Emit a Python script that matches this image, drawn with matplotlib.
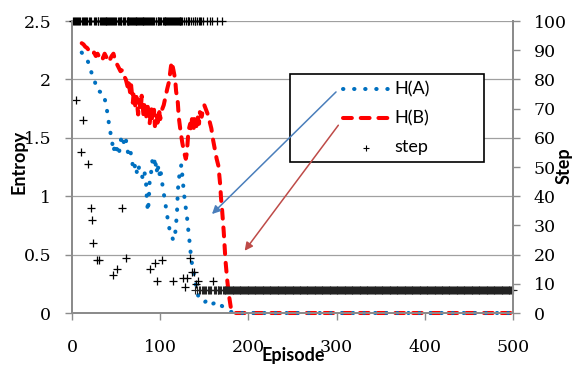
import matplotlib
matplotlib.use("Agg")
import matplotlib.pyplot as plt
from matplotlib.lines import Line2D
from matplotlib.patches import Rectangle, FancyArrowPatch

# H(A) entropy per episode
ha_episode = [11, 14, 17, 20, 22, 24, 26, 28, 30, 33, 36, 38, 40, 41, 43, 44, 46, 47,
              49, 51, 53, 55, 57, 59, 61, 62, 64, 66, 68, 70, 72, 74, 76, 78, 80, 82,
              84, 85, 86, 87, 88, 90, 91, 93, 94, 96, 97, 99, 100, 102, 103, 105, 107,
              109, 111, 113, 115, 117, 119, 120, 122, 124, 126, 128, 130, 132, 134,
              135, 137, 139, 141, 143, 146, 150, 155, 160, 165, 170, 176, 180, 187, 500]
ha_value = [2.23, 2.20, 2.17, 2.12, 2.06, 2.03, 1.98, 1.91, 1.90, 1.89, 1.88, 1.80,
            1.72, 1.66, 1.58, 1.52, 1.44, 1.38, 1.45, 1.40, 1.35, 1.47, 1.52, 1.45,
            1.50, 1.42, 1.36, 1.40, 1.30, 1.22, 1.28, 1.18, 1.25, 1.20, 1.16, 1.22,
            1.10, 0.96, 0.87, 0.95, 1.12, 1.22, 1.30, 1.25, 1.33, 1.20, 1.28, 1.17,
            1.24, 1.13, 1.07, 0.98, 0.88, 0.78, 0.70, 0.66, 0.62, 0.68, 0.85, 1.05,
            1.20, 1.27, 1.10, 0.95, 0.85, 0.70, 0.56, 0.47, 0.38, 0.30, 0.22, 0.15,
            0.11, 0.09, 0.12, 0.08, 0.10, 0.06, 0.03, 0.01, 0.0, 0.0]

# H(B) entropy per episode
hb_episode = [11, 13, 15, 17, 19, 21, 23, 25, 27, 29, 31, 33, 35, 37, 39, 41, 43, 45,
              47, 49, 51, 53, 55, 57, 59, 61, 63, 64, 66, 67, 69, 70, 72, 73, 75, 76,
              78, 79, 81, 82, 84, 85, 87, 88, 90, 91, 93, 94, 96, 97, 99, 100, 102, 104,
              106, 108, 110, 112, 113, 115, 117, 118, 120, 121, 123, 125, 127, 129, 130,
              131, 132, 134, 135, 136, 138, 139, 141, 142, 144, 145, 147, 149, 150, 152,
              154, 156, 158, 160, 162, 164, 166, 168, 169, 170, 172, 174, 176, 178, 180,
              182, 185, 500]
hb_value = [2.31, 2.30, 2.28, 2.27, 2.25, 2.25, 2.22, 2.23, 2.20, 2.22, 2.19, 2.21,
            2.18, 2.22, 2.19, 2.21, 2.17, 2.20, 2.22, 2.16, 2.13, 2.10, 2.07, 2.08,
            2.03, 2.00, 1.94, 1.99, 1.88, 1.95, 1.80, 1.90, 1.75, 1.85, 1.70, 1.82,
            1.74, 1.86, 1.70, 1.78, 1.66, 1.80, 1.72, 1.62, 1.76, 1.64, 1.74, 1.60,
            1.70, 1.63, 1.72, 1.66, 1.74, 1.78, 1.85, 1.92, 1.98, 2.10, 2.15, 2.08,
            2.00, 1.90, 1.80, 1.68, 1.56, 1.46, 1.38, 1.32, 1.36, 1.45, 1.56, 1.62,
            1.55, 1.66, 1.58, 1.68, 1.60, 1.70, 1.62, 1.72, 1.68, 1.76, 1.78, 1.74,
            1.70, 1.64, 1.58, 1.48, 1.40, 1.32, 1.26, 1.10, 0.98, 0.90, 0.70, 0.45,
            0.28, 0.15, 0.05, 0.01, 0.0, 0.0]

# steps: episodes that finished early, the rest of the early ones hit the 100 limit
success_episode = [4, 10, 12, 18, 21, 23, 24, 28, 31, 46, 51, 57, 61, 88, 94, 96, 102,
                   115, 126, 128, 130, 134, 136, 138, 141, 143, 160]
success_step = [73, 55, 66, 51, 36, 32, 24, 18, 18, 13, 15, 36, 19, 15, 17, 11, 18,
                11, 12, 9, 12, 19, 14, 14, 10, 11, 11]
late_timeouts = [146, 149, 153, 156, 159, 164, 170]
max_step = 100
converged_step = 8

timeout_episode = [e for e in range(1, 146) if e not in success_episode] + late_timeouts
converged_episode = [e for e in range(140, 501)
                     if e not in late_timeouts and e not in success_episode]

W, H = 572, 365


def fx(x):
    return x / W


def fy(y):
    return 1 - y / H


plt.rcParams['font.family'] = ['Lato', 'DejaVu Sans']
fig = plt.figure(figsize=(W / 100, H / 100), dpi=100)
ax = fig.add_axes([fx(72), fy(313), fx(513) - fx(72), fy(21) - fy(313)])
ax2 = ax.twinx()

grey = '#8c8c8c'
blue = '#0070c0'
red = '#ff0000'

ax.plot(hb_episode, hb_value, color=red, lw=2.9, linestyle=(0, (2.2, 2.2)),
        dash_capstyle='round', clip_on=False, zorder=3)
ax.plot(ha_episode, ha_value, color=blue, lw=2.9, linestyle=(0, (0.1, 2.65)),
        dash_capstyle='round', clip_on=False, zorder=4)

ax2.plot(timeout_episode, [max_step] * len(timeout_episode), '+', color='black',
         ms=6, mew=0.9, clip_on=False)
ax2.plot(success_episode, success_step, '+', color='black', ms=6, mew=0.9, clip_on=False)
ax2.plot(converged_episode, [converged_step] * len(converged_episode), '+',
         color='#222222', ms=6, mew=0.8, clip_on=False)

ax.set_xlim(0, 500)
ax.set_ylim(0, 2.5)
ax2.set_ylim(0, 100)
ax.set_xticks([0, 100, 200, 300, 400, 500])
ax.set_yticks([0, 0.5, 1, 1.5, 2, 2.5])
ax.set_yticklabels(['0', '0.5', '1', '1.5', '2', '2.5'])
ax2.set_yticks(range(0, 101, 10))

ax.yaxis.grid(True, color='#a0a0a0', lw=0.9)
ax.set_axisbelow(True)
for a in (ax, ax2):
    a.spines['top'].set_visible(False)
    for s in ('left', 'right', 'bottom'):
        a.spines[s].set_color(grey)
        a.spines[s].set_linewidth(1.4)
    a.tick_params(colors=grey, length=5, width=1, labelcolor='black')
    for lab in a.get_xticklabels() + a.get_yticklabels():
        lab.set_family('DejaVu Serif')
        lab.set_fontsize(12.5)
ax.tick_params(axis='y', pad=10)
ax.tick_params(axis='x', pad=14)
ax2.tick_params(axis='y', pad=10)

fig.text(fx(19), fy(162), 'Entropy', rotation=90, ha='center', va='center',
         fontsize=13, fontweight='bold')
fig.text(fx(564), fy(166), 'Step', rotation=90, ha='center', va='center',
         fontsize=13, fontweight='bold')
fig.text(fx(293), fy(356), 'Episode', ha='center', va='center',
         fontsize=13, fontweight='bold')

# legend box with arrows
fig.add_artist(Rectangle((fx(290), fy(162)), fx(484) - fx(290), fy(74) - fy(162),
                         transform=fig.transFigure, facecolor='white',
                         edgecolor='black', lw=1.2, zorder=5))
fig.add_artist(Line2D([fx(343), fx(389)], [fy(89), fy(89)], transform=fig.transFigure,
                      color=blue, lw=2.9, linestyle=(0, (0.1, 2.65)),
                      dash_capstyle='round', zorder=6))
fig.add_artist(Line2D([fx(343), fx(389)], [fy(118), fy(118)], transform=fig.transFigure,
                      color=red, lw=2.9, linestyle=(0, (2.2, 2.2)),
                      dash_capstyle='round', zorder=6))
fig.add_artist(Line2D([fx(366)], [fy(148)], transform=fig.transFigure, marker='+',
                      color='black', ms=5, mew=0.8, zorder=6))
for y, txt in [(89, 'H(A)'), (118, 'H(B)'), (147, 'step')]:
    fig.text(fx(394), fy(y), txt, ha='left', va='center', fontsize=13, zorder=6)

fig.add_artist(FancyArrowPatch((fx(338), fy(90)), (fx(210), fy(216)),
                               transform=fig.transFigure, arrowstyle='-|>',
                               mutation_scale=12, color='#4a7ebb', lw=1.1, zorder=7))
fig.add_artist(FancyArrowPatch((fx(340), fy(123)), (fx(243), fy(253)),
                               transform=fig.transFigure, arrowstyle='-|>',
                               mutation_scale=12, color='#be4b48', lw=1.1, zorder=7))

fig.savefig('out.png', dpi=100)
